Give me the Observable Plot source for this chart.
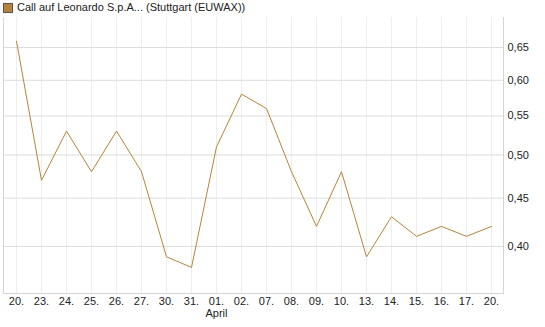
<!DOCTYPE html>
<html><head><meta charset="utf-8">
<script src="https://cdn.jsdelivr.net/npm/d3@7"></script>
<script src="https://cdn.jsdelivr.net/npm/@observablehq/plot@0.6"></script>
<style>
body{margin:0;background:#fff;font-family:"Liberation Sans",Arial,sans-serif}
#title{height:17px;position:relative;font-size:11px;color:#222}
#title .sq{position:absolute;left:3px;top:3px;width:8px;height:8px;background:#b5843c;border:1px solid #555}
#title .t{position:absolute;left:17px;top:1px;white-space:nowrap}
#chart svg{display:block}
</style></head><body>
<div id="title"><span class="sq"></span><span class="t">Call auf Leonardo S.p.A... (Stuttgart (EUWAX))</span></div>
<div id="chart"></div>
<script>
const dates = ["20.","23.","24.","25.","26.","27.","30.","31.","01.","02.","07.","08.","09.","10.","13.","14.","15.","16.","17.","20."];
const values = [0.66,0.47,0.53,0.48,0.53,0.48,0.39,0.38,0.51,0.58,0.56,0.48,0.42,0.48,0.39,0.43,0.41,0.42,0.41,0.42];
const yTicks = [0.40,0.45,0.50,0.55,0.60,0.65];
const monthIndex = [8];
const monthNames = ["April"];

const rows = dates.map((d, i) => ({i, v: values[i]}));
const idx = dates.map((d, i) => i);
const fmt = v => v.toFixed(2).replace(".", ",");

const chart = Plot.plot({
  width: 545,
  height: 310,
  marginTop: 0,
  marginLeft: 3,
  marginRight: 42,
  marginBottom: 34,
  style: {fontFamily: '"Liberation Sans", Arial, sans-serif', fontSize: "11px", color: "#222", background: "#fff"},
  x: {type: "point", domain: idx, padding: 0.5, axis: "bottom", tickSize: 0, tickPadding: 4, tickFormat: i => dates[i], label: null},
  y: {type: "log", domain: [0.3566, 0.6993], axis: "right", ticks: yTicks, tickSize: 0, tickPadding: 4, tickFormat: fmt, label: null},
  marks: [
    Plot.gridX(idx, {stroke: "#eeeeee", strokeOpacity: 1}),
    Plot.gridY(yTicks, {stroke: "#dcdcdc", strokeOpacity: 1}),
    Plot.frame({anchor: "left", stroke: "#d4d4d4"}),
    Plot.frame({anchor: "right", stroke: "#d4d4d4"}),
    Plot.frame({anchor: "bottom", stroke: "#d4d4d4"}),
    Plot.line(rows, {x: "i", y: "v", stroke: "#b5843c", strokeWidth: 1}),
    Plot.text(monthIndex, {x: d => d, text: (d, i) => monthNames[i], frameAnchor: "bottom", dy: 23, fill: "#222"})
  ]
});
document.getElementById("chart").appendChild(chart);
</script>
</body></html>
